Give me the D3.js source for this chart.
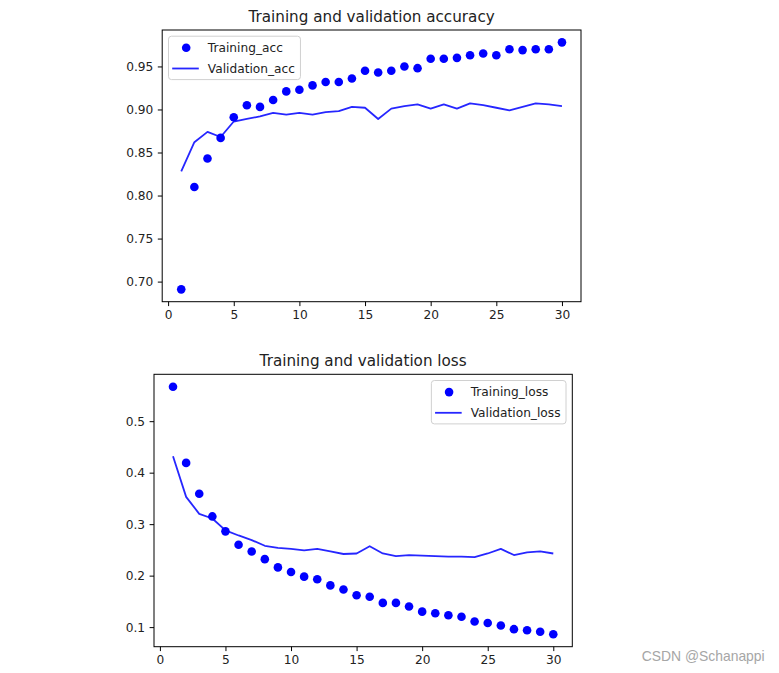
<!DOCTYPE html>
<html>
<head>
<meta charset="utf-8">
<script src="https://cdn.jsdelivr.net/npm/d3@7"></script>
<style>
  html, body { margin: 0; padding: 0; background: #fff; }
  svg { display: block; }
</style>
</head>
<body>
<svg id="chart" width="779" height="673"></svg>
<script>
// ---------- data ----------
const epochs = d3.range(1, 31);
const trainingAcc = [0.691, 0.810, 0.843, 0.867, 0.891, 0.905, 0.903, 0.911, 0.921, 0.923,
  0.928, 0.932, 0.932, 0.936, 0.945, 0.943, 0.945, 0.950, 0.948, 0.959,
  0.959, 0.960, 0.963, 0.965, 0.963, 0.970, 0.969, 0.970, 0.970, 0.978];
const validationAcc = [0.828, 0.862, 0.874, 0.868, 0.886, 0.889, 0.892, 0.896, 0.894, 0.896,
  0.894, 0.897, 0.898, 0.903, 0.902, 0.889, 0.901, 0.904, 0.906, 0.901,
  0.906, 0.901, 0.907, 0.905, 0.902, 0.899, 0.903, 0.907, 0.906, 0.904];
const trainingLoss = [0.567, 0.419, 0.359, 0.315, 0.286, 0.260, 0.247, 0.232, 0.216, 0.207,
  0.198, 0.193, 0.181, 0.173, 0.162, 0.159, 0.147, 0.147, 0.140, 0.130,
  0.127, 0.123, 0.120, 0.111, 0.108, 0.103, 0.096, 0.094, 0.091, 0.086];
const validationLoss = [0.432, 0.353, 0.320, 0.311, 0.288, 0.278, 0.269, 0.258, 0.254, 0.252,
  0.249, 0.252, 0.247, 0.242, 0.243, 0.257, 0.243, 0.238, 0.240, 0.239,
  0.238, 0.237, 0.237, 0.236, 0.243, 0.252, 0.240, 0.245, 0.247, 0.243];
const xTicks = [0, 5, 10, 15, 20, 25, 30];
const accTicks = [0.70, 0.75, 0.80, 0.85, 0.90, 0.95];
const lossTicks = [0.1, 0.2, 0.3, 0.4, 0.5];
const titles = ["Training and validation accuracy", "Training and validation loss"];
const accLegend = ["Training_acc", "Validation_acc"];
const lossLegend = ["Training_loss", "Validation_loss"];
const watermark = "CSDN @Schanappi";

// ---------- drawing ----------
const svg = d3.select("#chart");
const FONT = "'DejaVu Sans', sans-serif";
const BLUE = "#0000ff";

function marginDomain(arrs) {
  const all = arrs.flat();
  const [lo, hi] = d3.extent(all);
  const m = (hi - lo) * 0.05;
  return [lo - m, hi + m];
}

function panel(opt) {
  const g = svg.append("g");
  const x = d3.scaleLinear().domain([1 - 29 * 0.05, 30 + 29 * 0.05]).range([opt.left, opt.right]);
  const y = d3.scaleLinear().domain(marginDomain([opt.dots, opt.line])).range([opt.bottom, opt.top]);

  // line
  g.append("path")
    .datum(epochs.map((e, i) => [e, opt.line[i]]))
    .attr("fill", "none")
    .attr("stroke", BLUE)
    .attr("stroke-opacity", 0.85)
    .attr("stroke-width", 1.8)
    .attr("stroke-linejoin", "round")
    .attr("d", d3.line().x(d => x(d[0])).y(d => y(d[1])));

  // dots
  g.append("g").selectAll("circle")
    .data(epochs.map((e, i) => [e, opt.dots[i]]))
    .join("circle")
    .attr("cx", d => x(d[0]))
    .attr("cy", d => y(d[1]))
    .attr("r", 4.3)
    .attr("fill", BLUE);

  // axes
  const xAxis = g.append("g")
    .attr("transform", `translate(0,${opt.bottom})`)
    .call(d3.axisBottom(x).tickValues(xTicks).tickFormat(d3.format("d")).tickSize(4.4).tickPadding(4));
  const yAxis = g.append("g")
    .attr("transform", `translate(${opt.left},0)`)
    .call(d3.axisLeft(y).tickValues(opt.yTicks).tickFormat(opt.fmt).tickSize(4.4).tickPadding(4.5));
  [xAxis, yAxis].forEach(a => {
    a.select(".domain").remove();
    a.selectAll("line").attr("stroke", "#000").attr("stroke-width", 1);
    a.selectAll("text").attr("fill", "#222").style("font-family", FONT).style("font-size", "12.2px");
  });

  // frame
  g.append("rect")
    .attr("x", opt.left).attr("y", opt.top)
    .attr("width", opt.right - opt.left).attr("height", opt.bottom - opt.top)
    .attr("fill", "none").attr("stroke", "#000").attr("stroke-width", 1);

  // title
  g.append("text")
    .attr("x", (opt.left + opt.right) / 2)
    .attr("y", opt.top - 8)
    .attr("text-anchor", "middle")
    .style("font-family", FONT).style("font-size", "15.2px").attr("fill", "#222")
    .text(opt.title);

  // legend
  const lg = g.append("g");
  const rowH = 20.7;
  const labels = lg.selectAll("text").data(opt.legend).join("text")
    .attr("x", 39.3).attr("y", (d, i) => 11.6 + i * rowH)
    .attr("dy", "0.35em")
    .style("font-family", FONT).style("font-size", "12.2px").attr("fill", "#222")
    .text(d => d);
  let tw = 0;
  labels.each(function () { tw = Math.max(tw, this.getComputedTextLength()); });
  const boxW = 39.3 + tw + 5.5;
  const boxH = 43.4;
  lg.insert("rect", "text")
    .attr("x", 0).attr("y", 0).attr("width", boxW).attr("height", boxH)
    .attr("rx", 3).attr("fill", "#fff").attr("fill-opacity", 0.8)
    .attr("stroke", "#d0d0d0").attr("stroke-width", 1);
  lg.append("circle").attr("cx", 17.7).attr("cy", 11.6).attr("r", 4.3).attr("fill", BLUE);
  lg.append("line").attr("x1", 3.7).attr("x2", 30.3).attr("y1", 11.6 + rowH).attr("y2", 11.6 + rowH)
    .attr("stroke", BLUE).attr("stroke-opacity", 0.85).attr("stroke-width", 1.8);
  const lx = opt.legendRight ? opt.right - 6.3 - boxW : opt.left + 6.3;
  const ly = opt.top + 6.2;
  lg.attr("transform", `translate(${lx},${ly})`);
}

panel({
  left: 162.2, right: 581, top: 30, bottom: 301.7,
  dots: trainingAcc, line: validationAcc,
  yTicks: accTicks, fmt: d3.format(".2f"),
  title: titles[0], legend: accLegend, legendRight: false
});

panel({
  left: 154, right: 572.3, top: 374.3, bottom: 646.7,
  dots: trainingLoss, line: validationLoss,
  yTicks: lossTicks, fmt: d3.format(".1f"),
  title: titles[1], legend: lossLegend, legendRight: true
});

svg.append("text")
  .attr("x", 641.7).attr("y", 660.5)
  .style("font-family", "'Liberation Sans', Arial, sans-serif").style("font-size", "13.9px")
  .attr("fill", "#a6a6a6")
  .text(watermark);
</script>
</body>
</html>
